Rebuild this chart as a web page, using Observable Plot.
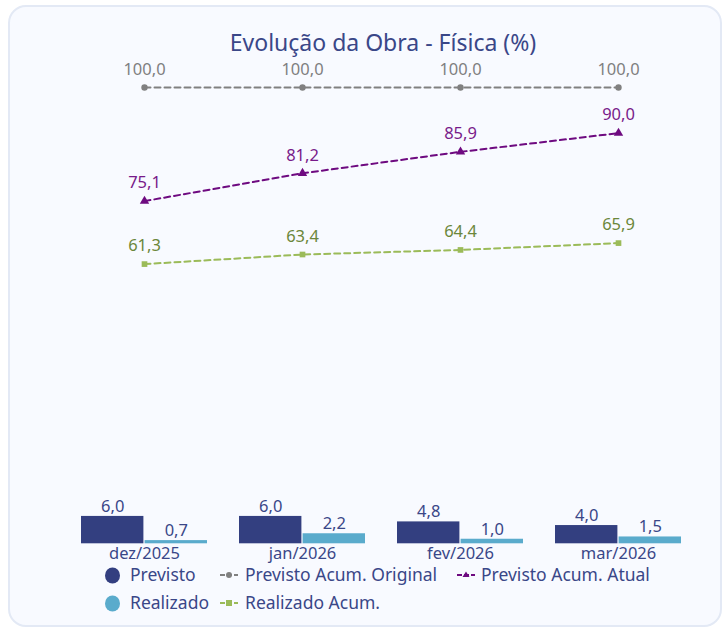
<!DOCTYPE html>
<html><head><meta charset="utf-8">
<script src="https://cdn.jsdelivr.net/npm/d3@7"></script>
<script src="https://cdn.jsdelivr.net/npm/@observablehq/plot@0.6"></script>
<style>
body{margin:0;background:#fff;font-family:"Noto Sans",sans-serif;width:725px;height:628px;overflow:hidden;position:relative;}
#card{position:absolute;left:8px;top:5px;width:710px;height:618px;border:2px solid #e3e9f5;border-radius:18px;background:#f8faff;}
#title{position:absolute;top:26px;left:383px;transform:translateX(-50%);font-size:23px;color:#3a4788;white-space:nowrap;}
#chart{position:absolute;left:0;top:0;}
.lg{position:absolute;font-size:17.5px;color:#3a4788;white-space:nowrap;line-height:20px;}
.sym{position:absolute;}
</style></head>
<body>
<div id="card"></div>
<div id="title">Evolução da Obra - Física (%)</div>
<div id="chart"></div>
<div id="legend"></div>
<script>
const months = ["dez/2025", "jan/2026", "fev/2026", "mar/2026"];
const previsto = [6.0, 6.0, 4.8, 4.0];
const realizado = [0.7, 2.2, 1.0, 1.5];
const previstoAcumOriginal = [100.0, 100.0, 100.0, 100.0];
const previstoAcumAtual = [75.1, 81.2, 85.9, 90.0];
const realizadoAcum = [61.3, 63.4, 64.4, 65.9];

const C = {
  previsto: "#333f80",
  realizado: "#5aabcc",
  orig: "#808080",
  origText: "#7f7f7f",
  atual: "#6e0a80",
  atualText: "#781a8a",
  realAc: "#9bbb59",
  realAcText: "#6b873a",
  text: "#3a4788"
};

const rows = months.map((m, i) => ({
  month: m,
  previsto: previsto[i],
  realizado: realizado[i],
  orig: previstoAcumOriginal[i],
  atual: previstoAcumAtual[i],
  realAc: realizadoAcum[i]
}));
const fmt = v => v.toFixed(1).replace(".", ",");

const rangeX = [47.5, 715.3];
const pad = 0.2;
const step = (rangeX[1] - rangeX[0]) / (months.length - pad + 2 * pad);
const half = step * (1 - pad) / 2;

const chart = Plot.plot({
  width: 725,
  height: 565,
  marginTop: 87,
  marginBottom: 21.7,
  marginLeft: 0,
  marginRight: 0,
  style: {background: "transparent", color: C.text, fontFamily: "Noto Sans, sans-serif", overflow: "visible"},
  x: {type: "band", domain: months, range: rangeX, padding: pad, label: null},
  y: {domain: [0, 100], axis: null},
  marks: [
    Plot.barY(rows, {x: "month", y: "previsto", fill: C.previsto, insetRight: half}),
    Plot.barY(rows, {x: "month", y: "realizado", fill: C.realizado, insetLeft: half}),
    Plot.text(rows, {x: "month", y: "previsto", text: d => fmt(d.previsto), dx: -half / 2, dy: -10, fill: C.text, fontSize: 16.5}),
    Plot.text(rows, {x: "month", y: "realizado", text: d => fmt(d.realizado), dx: half / 2, dy: -10, fill: C.text, fontSize: 16.5}),

    Plot.lineY(rows, {x: "month", y: "orig", stroke: C.orig, strokeWidth: 2, strokeDasharray: "6,4"}),
    Plot.dot(rows, {x: "month", y: "orig", fill: C.orig, r: 3.2, symbol: "circle"}),
    Plot.text(rows, {x: "month", y: "orig", text: d => fmt(d.orig), dy: -18, fill: C.origText, fontSize: 16.5}),

    Plot.lineY(rows, {x: "month", y: "atual", stroke: C.atual, strokeWidth: 2, strokeDasharray: "6,4"}),
    Plot.dot(rows, {x: "month", y: "atual", fill: C.atual, r: 3.5, symbol: "triangle"}),
    Plot.text(rows, {x: "month", y: "atual", text: d => fmt(d.atual), dy: -18, fill: C.atualText, fontSize: 16.5}),

    Plot.lineY(rows, {x: "month", y: "realAc", stroke: C.realAc, strokeWidth: 2, strokeDasharray: "6,4"}),
    Plot.dot(rows, {x: "month", y: "realAc", fill: C.realAc, r: 3.2, symbol: "square"}),
    Plot.text(rows, {x: "month", y: "realAc", text: d => fmt(d.realAc), dy: -18, fill: C.realAcText, fontSize: 16.5}),

    Plot.axisX({tickSize: 0, tickPadding: 3, fontSize: 16.5, color: C.text, label: null})
  ]
});
document.getElementById("chart").appendChild(chart);

// Legend
const legendItems = [
  {label: "Previsto", kind: "circle", color: C.previsto, x: 104, y: 575, tx: 130},
  {label: "Previsto Acum. Original", kind: "line", sym: "circle", color: C.orig, x: 220, y: 575, tx: 245},
  {label: "Previsto Acum. Atual", kind: "line", sym: "triangle", color: C.atual, x: 457, y: 575, tx: 481},
  {label: "Realizado", kind: "circle", color: C.realizado, x: 104, y: 603, tx: 130},
  {label: "Realizado Acum.", kind: "line", sym: "square", color: C.realAc, x: 220, y: 603, tx: 245}
];
const lg = document.getElementById("legend");
for (const it of legendItems) {
  const s = document.createElementNS("http://www.w3.org/2000/svg", "svg");
  s.setAttribute("class", "sym");
  s.setAttribute("width", 20);
  s.setAttribute("height", 20);
  s.style.left = it.x + "px";
  s.style.top = (it.y - 10) + "px";
  if (it.kind === "circle") {
    s.innerHTML = `<ellipse cx="8.5" cy="10.5" rx="7.5" ry="8" fill="${it.color}"/>`;
  } else {
    let m = "";
    if (it.sym === "circle") m = `<circle cx="9" cy="10" r="3" fill="${it.color}"/>`;
    if (it.sym === "triangle") m = `<path d="M9,6.5 L12.5,12 L5.5,12 Z" fill="${it.color}"/>`;
    if (it.sym === "square") m = `<rect x="6" y="7" width="6" height="6" fill="${it.color}"/>`;
    s.innerHTML = `<line x1="0" y1="10" x2="18" y2="10" stroke="${it.color}" stroke-width="2" stroke-dasharray="5,2"/>` + m;
  }
  lg.appendChild(s);
  const t = document.createElement("div");
  t.className = "lg";
  t.textContent = it.label;
  t.style.left = it.tx + "px";
  t.style.top = (it.y - 11) + "px";
  lg.appendChild(t);
}
</script>
</body></html>
